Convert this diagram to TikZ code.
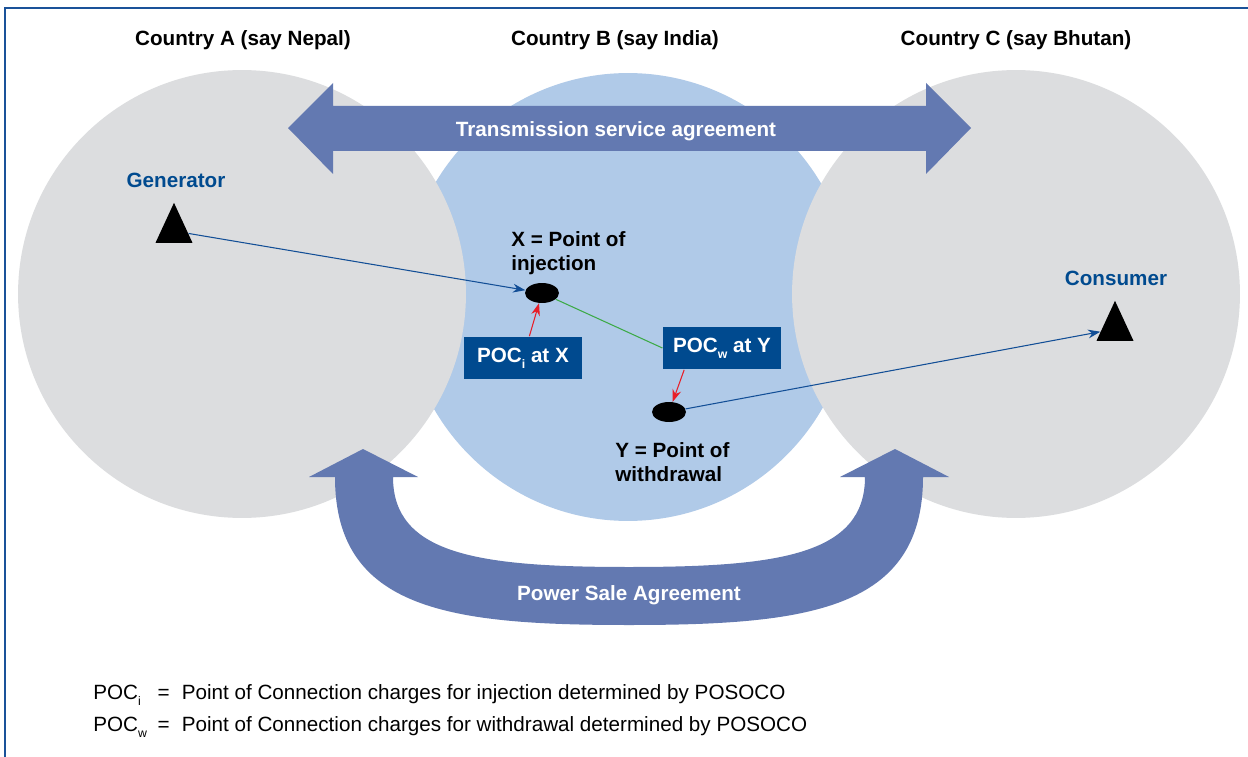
\documentclass[tikz,border=0pt]{standalone}
\usepackage{fontspec}
\setmainfont{Liberation Sans}
\usetikzlibrary{positioning}
\usetikzlibrary{arrows.meta}
\usetikzlibrary{shapes.geometric}

\definecolor{countrygrey}{RGB}{220,221,223}
\definecolor{indiablue}{RGB}{176,202,232}
\definecolor{bandblue}{RGB}{99,121,177}
\definecolor{pocblue}{RGB}{0,74,143}
\definecolor{linkblue}{RGB}{18,78,150}
\definecolor{frameblue}{RGB}{26,82,153}
\definecolor{linkgreen}{RGB}{60,170,70}
\definecolor{linkred}{RGB}{232,30,40}

\newcommand{\diagfont}{\fontsize{11.75}{13.6}\selectfont}
\newcommand{\lowsub}[1]{\raisebox{-0.55ex}{\fontsize{7}{8}\selectfont #1}}

\tikzset{
    every node/.style={font=\diagfont, inner sep=0pt},
    country/.style={ % The three big discs
        circle,
        minimum size=8.96cm,
        fill=countrygrey
    },
    countrytitle/.style={font=\diagfont\bfseries},
    role/.style={text=pocblue, font=\diagfont\bfseries},
    pointtext/.style={align=left, font=\diagfont\bfseries},
    agreement/.style={fill=bandblue}, % Fat arrows
    agreementtext/.style={text=white, font=\diagfont\bfseries},
    poc/.style={ % Charge boxes
        fill=pocblue,
        text=white,
        font=\diagfont\bfseries,
        minimum width=2.37cm,
        minimum height=0.86cm
    },
    junction/.style={ellipse, fill=black, minimum width=0.68cm, minimum height=0.40cm},
    tower/.style={
        isosceles triangle,
        isosceles triangle stretches,
        shape border rotate=90,
        fill=black,
        minimum width=0.74cm,
        minimum height=0.80cm
    },
    feed/.style={draw=linkblue, line width=0.6pt, -{Stealth[length=7pt, width=5pt]}},
    charge/.style={draw=linkred, line width=0.6pt, -{Stealth[length=7pt, width=5pt]}}
}

\begin{document}
\begin{tikzpicture}[x=0.02cm, y=-0.02cm]
\useasboundingbox (0,0) rectangle (1248,757);
\fill[white] (0,0) rectangle (1248,757);
\draw[frameblue, line width=1.4pt] (5,770) -- (5,8) -- (1260,8);

% countries
\node[country, fill=indiablue] (cb) at (628,297) {};
\node[country] (ca) at (242,294) {};
\node[country] (cc) at (1016,294) {};

\node[countrytitle] (ta) at (243,40) {Country A (say Nepal)};
\node[countrytitle] (tb) at (615,40) {Country B (say India)};
\node[countrytitle] (tc) at (1016,40) {Country C (say Bhutan)};

% agreements
\fill[agreement] (288,128) -- (333,83) -- (333,106) -- (926,106) -- (926,83)
    -- (971,128) -- (926,174) -- (926,151) -- (333,151) -- (333,174) -- cycle;
\node[agreementtext] (tsa) at (616,131) {Transmission service agreement};

\fill[agreement] (363,449) -- (418,477) -- (393,477)
    .. controls (393,555) and (480,567) .. (629,567)
    .. controls (778,567) and (865,555) .. (865,477)
    -- (840,477) -- (895,449) -- (949,477) -- (923,477)
    .. controls (923,610) and (808,625) .. (629,625)
    .. controls (450,625) and (335,610) .. (335,477)
    -- (309,477) -- cycle;
\node[agreementtext] (psa) at (629,595) {Power Sale Agreement};

% generator and consumer
\node[role] (gent) at (176,180) {Generator};
\node[tower] (gen) at (174,231) {};
\node[role] (const) at (1116,278) {Consumer};
\node[tower] (cons) at (1115,329) {};

% points of injection and withdrawal
\node[junction] (x) at (542,293) {};
\node[pointtext, anchor=west] (xt) at (511,253) {X = Point of\\injection};
\node[junction] (y) at (669,412) {};
\node[pointtext, anchor=west] (yt) at (615,462) {Y = Point of\\withdrawal};

\node[poc] (poci) at (523,358) {POC\lowsub{i} at X};
\node[poc] (pocw) at (722,348) {POC\lowsub{w} at Y};

\draw[feed] (gen) -- (x);
\draw[feed] (y) -- (cons);
\draw[linkgreen, line width=0.6pt] (x) -- (pocw.west);
\draw[charge] (poci) -- (x);
\draw[charge] (pocw.210) -- (y);

% legend
\node[anchor=west] (legend) at (93,709) {\renewcommand{\arraystretch}{1.35}%
\begin{tabular}{@{}l@{\hspace{6pt}}l@{\hspace{7pt}}l@{}}
POC\lowsub{i} & = & Point of Connection charges for injection determined by POSOCO\\
POC\lowsub{w} & = & Point of Connection charges for withdrawal determined by POSOCO
\end{tabular}};
\end{tikzpicture}
\end{document}
